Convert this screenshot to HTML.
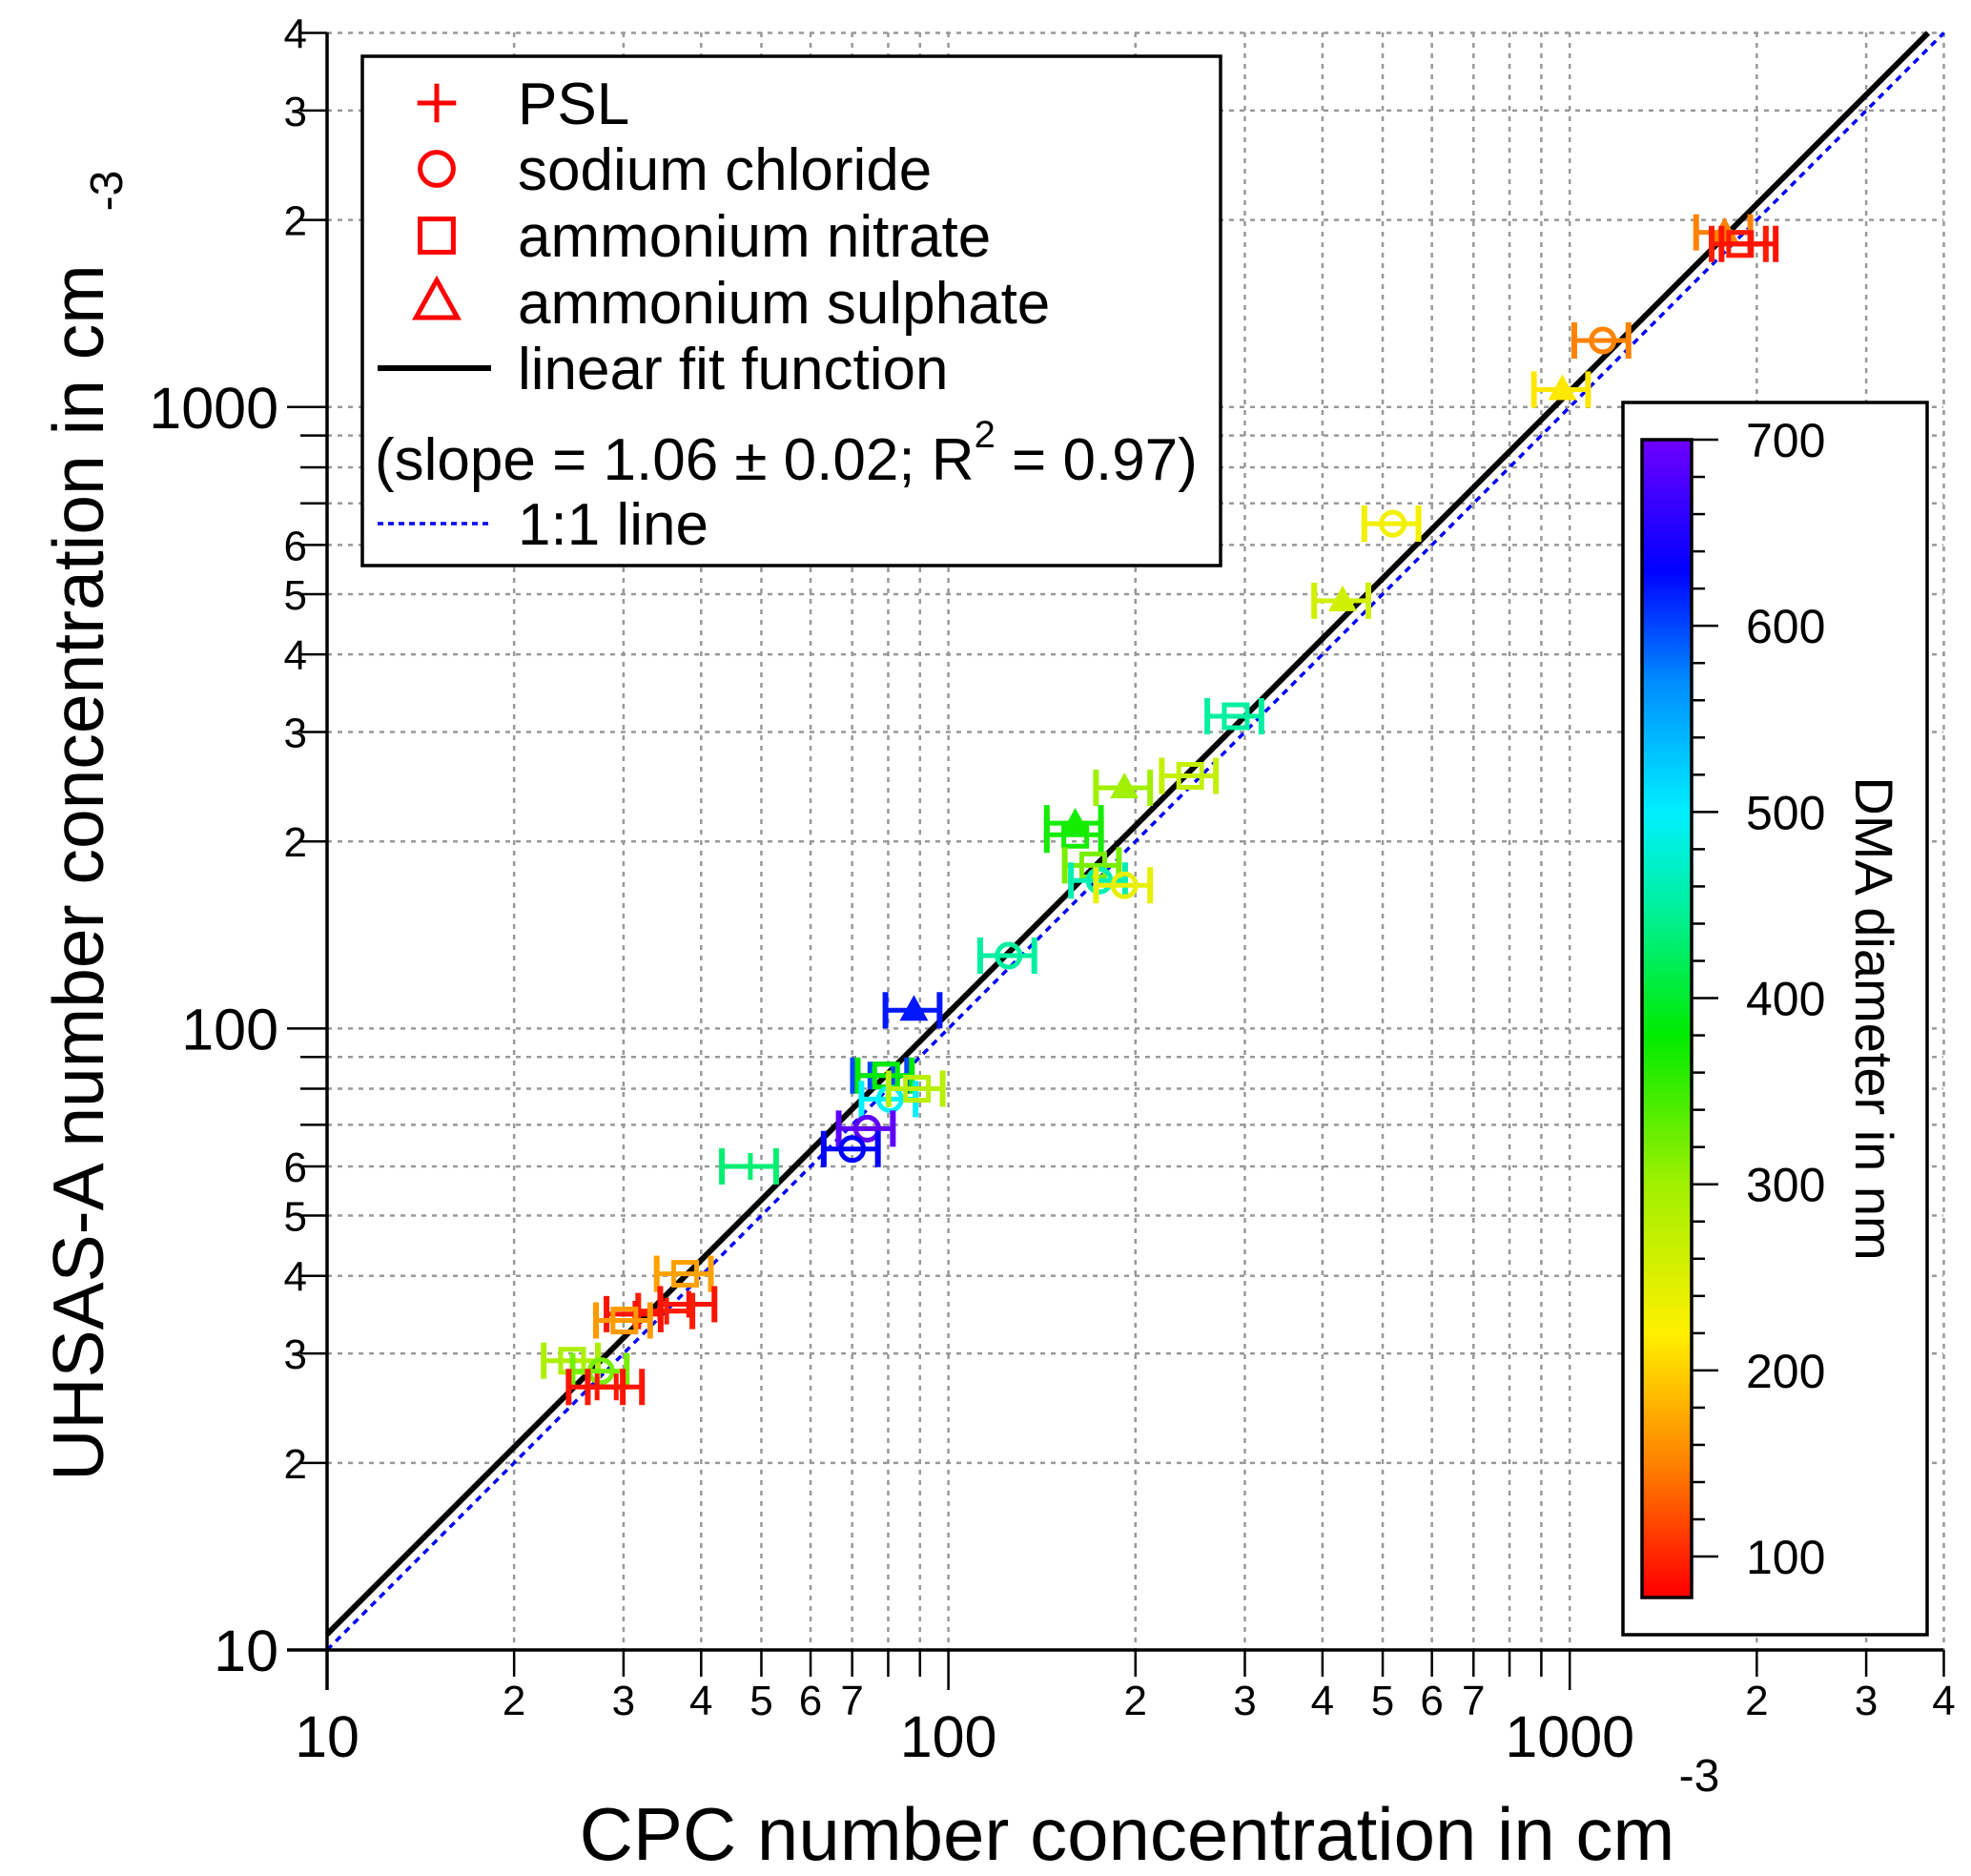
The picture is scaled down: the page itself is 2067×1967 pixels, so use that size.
<!DOCTYPE html>
<html><head><meta charset="utf-8"><style>
html,body{margin:0;padding:0;background:#fff}
svg{display:block;font-family:"Liberation Sans",Arial,sans-serif}
</style></head><body>
<svg id="chart" width="2067" height="1967" viewBox="0 0 2067 1967" xmlns="http://www.w3.org/2000/svg">
<defs>
<linearGradient id="cmap" x1="0" y1="1" x2="0" y2="0"></linearGradient>
</defs>
<g id="grid"></g>
<g id="lines"></g>
<g id="points"></g>
<g id="axes"></g>
<g id="legend"></g>
<g id="cbar"></g>
</svg>
<script>
const xVals=[1775,1880,1950,1130,973,519,431,290,245,192,160,160,171,175,192,125,88,78,79.4,80.5,89,74,70,48,37.7,38.2,35.2,31.3,30.1,24.8,27.6,27.2,29.2];
const yVals=[1910,1830,1830,1280,1067,649,488,318,255,244,214,205,183,173,170,131,107,84,84,77,80,69,64,60,40.3,36,35.1,34.7,33.9,29.2,28.1,26.5,26.5];
const types=['t','s','p','c','t','c','t','s','s','t','t','s','s','c','c','c','t','s','s','c','s','c','c','p','s','p','p','p','s','s','c','p','p'];
const diams=[150,95,90,150,215,230,260,450,270,300,370,370,320,460,240,450,620,600,380,500,280,690,630,430,170,90,95,90,165,290,320,90,92];
const xMinorLabels=['2','3','4','5','6','7'];
const yMinorLabels=['2','3','4','5','6'];
const fitSlope=1.06;
const cbarTicks=[100,200,300,400,500,600,700];

const NS='http://www.w3.org/2000/svg';
const X0=343,Y0=1730,DEC=651.6,XL=2038,YT=34;
const sx=v=>X0+(Math.log10(v)-1)*DEC;
const sy=v=>Y0-(Math.log10(v)-1)*DEC;
function mk(tag,attrs,parent,text){const e=document.createElementNS(NS,tag);for(const k in attrs)e.setAttribute(k,attrs[k]);if(text!==undefined)e.textContent=text;parent.appendChild(e);return e;}
const stops=[[80,[255,0,0]],[150,[255,130,0]],[220,[255,240,0]],[300,[160,240,0]],[380,[0,235,0]],[450,[0,240,160]],[500,[0,240,255]],[570,[0,140,255]],[630,[0,0,255]],[700,[110,0,255]]];
function col(d){if(d<=stops[0][0])return 'rgb('+stops[0][1]+')';for(let i=1;i<stops.length;i++){if(d<=stops[i][0]){const a=stops[i-1],b=stops[i],t=(d-a[0])/(b[0]-a[0]);return 'rgb('+a[1].map((c,j)=>Math.round(c+(b[1][j]-c)*t)).join(',')+')';}}return 'rgb('+stops[stops.length-1][1]+')';}

const grid=document.getElementById('grid');
for(let dec=10;dec<=1000;dec*=10){for(let m=1;m<=9;m++){const v=dec*m;if(v>4000)break;
 if(v>10){const l=mk('line',{x1:sx(v),x2:sx(v),y1:YT,y2:Y0,stroke:'#999','stroke-width':2.5,'stroke-dasharray':'5 6'},grid);
 const l2=mk('line',{x1:X0,x2:XL,y1:sy(v),y2:sy(v),stroke:'#999','stroke-width':2.5,'stroke-dasharray':'5 6'},grid);}}}

const lines=document.getElementById('lines');
const fit=mk('line',{x1:sx(10),y1:sy(10*fitSlope),x2:sx(4000/fitSlope),y2:sy(4000),stroke:'#000','stroke-width':6},lines);

const one=mk('line',{x1:sx(10),y1:sy(10),x2:sx(4000),y2:sy(4000),stroke:'#00f','stroke-width':3.5,'stroke-dasharray':'7 6'},lines);


const pts=document.getElementById('points');
function marker(type,cx,cy,c,g,s,open){
 s=s||1;
 if(type==='c')mk('circle',{cx:cx,cy:cy,r:12*s,fill:'none',stroke:c,'stroke-width':5},g);
 else if(type==='s')mk('rect',{x:cx-12*s,y:cy-12*s,width:24*s,height:24*s,fill:'none',stroke:c,'stroke-width':5},g);
 else if(type==='t')mk('polygon',{points:`${cx},${cy-16*s} ${cx+15*s},${cy+11*s} ${cx-15*s},${cy+11*s}`,fill:open?'none':c,stroke:open?c:'none','stroke-width':5},g);
 else {mk('line',{x1:cx-14*s,x2:cx+14*s,y1:cy,y2:cy,stroke:c,'stroke-width':5},g);mk('line',{x1:cx,x2:cx,y1:cy-14*s,y2:cy+14*s,stroke:c,'stroke-width':5},g);}
}
for(let i=0;i<xVals.length;i++){
 const g=mk('g',{},pts);
 
 
 const c=col(diams[i]),cx=sx(xVals[i]),cy=sy(yVals[i]),xl=sx(xVals[i]*0.9),xr=sx(xVals[i]*1.1);
 mk('line',{x1:xl,x2:xr,y1:cy,y2:cy,stroke:c,'stroke-width':5},g);
 mk('line',{x1:xl,x2:xl,y1:cy-19,y2:cy+19,stroke:c,'stroke-width':6},g);
 mk('line',{x1:xr,x2:xr,y1:cy-19,y2:cy+19,stroke:c,'stroke-width':6},g);
 marker(types[i],cx,cy,c,g);
}

const ax=document.getElementById('axes');
mk('line',{x1:X0,x2:X0,y1:YT,y2:Y0+42,stroke:'#000','stroke-width':3.5},ax);
mk('line',{x1:X0-42,x2:XL,y1:Y0,y2:Y0,stroke:'#000','stroke-width':3.5},ax);
for(let dec=10;dec<=1000;dec*=10){for(let m=1;m<=9;m++){const v=dec*m;if(v>4000)break;const maj=m===1;const L=maj?42:28;
 mk('line',{x1:sx(v),x2:sx(v),y1:Y0,y2:Y0+L,stroke:'#000','stroke-width':2.5},ax);
 mk('line',{x1:X0-L,x2:X0,y1:sy(v),y2:sy(v),stroke:'#000','stroke-width':2.5},ax);
 if(maj){const t=mk('text',{x:sx(v),y:Y0+112,'font-size':61,'text-anchor':'middle'},ax,String(v));
  const t2=mk('text',{x:292,y:sy(v)+22,'font-size':61,'text-anchor':'end'},ax,String(v));}
 else{ if(xMinorLabels.includes(String(m))||v>1000){const t=mk('text',{x:sx(v),y:Y0+68,'font-size':44,'text-anchor':'middle'},ax,String(m));}
  if(yMinorLabels.includes(String(m))||(v>1000)){const t=mk('text',{x:322,y:sy(v)+16,'font-size':44,'text-anchor':'end'},ax,String(m));}}
}}
const xt=mk('text',{x:1182,y:1950,'font-size':78,'text-anchor':'middle'},ax,'CPC number concentration in cm');
const xs=mk('text',{x:1782,y:1878,'font-size':48,'text-anchor':'middle'},ax,'-3');
const yt=mk('text',{x:0,y:0,'font-size':75,'text-anchor':'middle',transform:'translate(108,915) rotate(-90)'},ax,'UHSAS-A number concentration in cm');
const ys=mk('text',{x:0,y:0,'font-size':48,'text-anchor':'middle',transform:'translate(128,200) rotate(-90)'},ax,'-3');

const lg=document.getElementById('legend');
mk('rect',{x:380,y:59,width:900,height:534,fill:'#fff',stroke:'#000','stroke-width':3.5},lg);
const entries=[['p','PSL',108],['c','sodium chloride',177],['s','ammonium nitrate',247],['t','ammonium sulphate',317]];
entries.forEach(e=>{const g=mk('g',{},lg);marker(e[0],458,e[2],'#f00',g,1.45,true);mk('text',{x:543,y:e[2]+22,'font-size':62},g,e[1]);});
const lf=mk('g',{},lg);
mk('line',{x1:396,x2:515,y1:386,y2:386,stroke:'#000','stroke-width':6},lf);mk('text',{x:543,y:408,'font-size':62},lf,'linear fit function');
const st=mk('text',{x:393,y:503,'font-size':62},lg);
mk('tspan',{},st,'(slope = 1.06 ± 0.02; R');mk('tspan',{'font-size':40,dy:-34},st,'2');mk('tspan',{dy:34},st,' = 0.97)');
const l1=mk('g',{},lg);
mk('line',{x1:396,x2:515,y1:549,y2:549,stroke:'#00f','stroke-width':3.5,'stroke-dasharray':'6 5'},l1);mk('text',{x:543,y:571,'font-size':62},l1,'1:1 line');

const cb=document.getElementById('cbar');
const grad=document.getElementById('cmap');
const CMIN=78,CMAX=700,CT=461,CB=1675;
stops.forEach(s=>{mk('stop',{offset:((s[0]-CMIN)/(CMAX-CMIN)).toFixed(3),'stop-color':'rgb('+s[1]+')'},grad);});
mk('rect',{x:1702,y:422,width:319,height:1292,fill:'#fff',stroke:'#000','stroke-width':3.5},cb);
mk('rect',{x:1722,y:CT,width:52,height:CB-CT,fill:'url(#cmap)',stroke:'#000','stroke-width':3.5},cb);
const cy=v=>CB-(v-CMIN)/(CMAX-CMIN)*(CB-CT);
for(let v=100;v<=700;v+=20){const maj=v%100===0;mk('line',{x1:1774,x2:1774+(maj?28:14),y1:cy(v),y2:cy(v),stroke:'#000','stroke-width':2.5},cb);}
cbarTicks.forEach(v=>{const t=mk('text',{x:1831,y:cy(v)+18,'font-size':50},cb,String(v));});
const ct=mk('text',{x:0,y:0,'font-size':56,'text-anchor':'middle',transform:'translate(1946,1068) rotate(90)'},cb,'DMA diameter in nm');
</script>
</body></html>
